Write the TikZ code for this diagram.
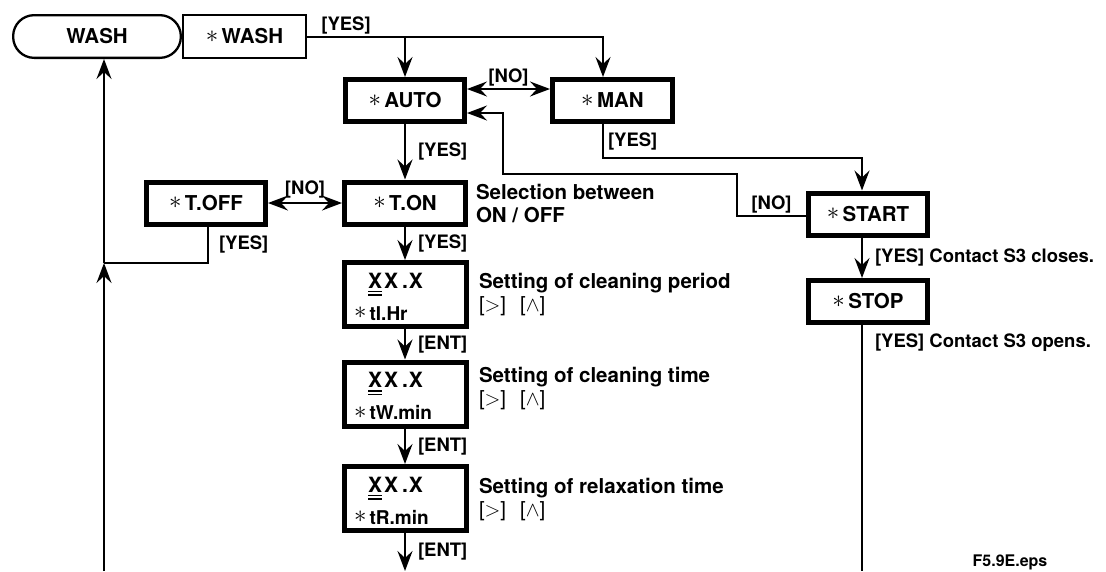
\documentclass[tikz,border=0pt]{standalone}
\usepackage{fontspec}
\setmainfont{TeX Gyre Heros}
\usetikzlibrary{arrows.meta}
\usetikzlibrary{positioning}

\newsavebox\ulbox
\newcommand\mk{{\mdseries\fontsize{23}{23}\selectfont\raisebox{1.8pt}{$\ast$}}\,}
\newcommand\ulx[1]{\sbox\ulbox{#1}\rlap{\rule[-4pt]{\wd\ulbox}{1.4pt}}\rlap{\rule[-7.2pt]{\wd\ulbox}{1.4pt}}\usebox\ulbox}
\newcommand\keys{{\mdseries[$>$]\hspace{14pt}[$\wedge$]}}
\newcommand\xxx{\rule{0pt}{19.7pt}\hspace*{14pt}{\fontsize{21}{22}\selectfont\ulx{X}\kern2pt X\kern4pt.\kern1pt X}}

\tikzset{
  box/.style={draw, line width=5pt, minimum width=119pt, minimum height=42pt, inner sep=0pt,
    font=\bfseries\fontsize{20.5}{22}\selectfont},
  setbox/.style={draw, line width=5pt, minimum height=64pt, text width=102pt, inner xsep=10pt,
    inner ysep=0pt, align=left, font=\bfseries\fontsize{19}{22}\selectfont},
  thinbox/.style={draw, line width=2.3pt, minimum height=42.7pt, inner sep=0pt,
    font=\bfseries\fontsize{20.5}{22}\selectfont},
  lbl/.style={inner sep=1pt, font=\bfseries\fontsize{18.5}{20}\selectfont},
  note/.style={inner sep=0pt, align=left, anchor=base west, font=\bfseries\fontsize{20.5}{23}\selectfont},
}

\begin{document}
\begin{tikzpicture}[x=1pt, y=-1pt, line width=2pt, >={Stealth[length=20pt, width=15pt, inset=7pt]}]
    \useasboundingbox (0,0) rectangle (1106,571);
    % top row
    \node[thinbox, minimum width=167.7pt, rounded corners=21pt] (wash) at (97,36.5) {WASH};
    \node[thinbox, minimum width=122.7pt] (washsel) at (244.5,36.5) {\mk WASH};
    % auto / manual
    \node[box] (auto) at (405,100.5) {\mk AUTO};
    \node[box, minimum width=120pt] (man) at (612.5,100.5) {\mk MAN};
    \node[box] (start) at (868,214) {\mk START};
    \node[box] (stop) at (868,301.5) {\mk STOP};
    % timer settings
    \node[box] (toff) at (206,203) {\mk T.OFF};
    \node[box, minimum width=121pt] (ton) at (405,203) {\mk T.ON};
    \node[setbox] (thr) at (405,294.5) {\xxx\\[10pt]\mk tI.Hr};
    \node[setbox] (twmin) at (405,394) {\xxx\\[10pt]\mk tW.min};
    \node[setbox] (trmin) at (405,498.5) {\xxx\\[10pt]\mk tR.min};
    \coordinate (wbot) at (104,571);
    \coordinate (wjoin) at (104,263);
    \coordinate (tbot) at (405,571);
    \coordinate (sbot) at (862,571);
    % connectors
    \draw[->] (washsel.east) -| node[lbl, above, pos=0.066] {[YES]} ([xshift=-9.5pt]man.north);
    \draw[->] (auto.north |- washsel.east) -- (auto.north);
    \draw[<->] ([yshift=11.5pt]auto.east) -- node[lbl, above=1pt] {[NO]} ([yshift=11.5pt]man.west);
    \draw[->] (auto) -- node[lbl, right=11pt] {[YES]} (ton);
    \draw[->] ([xshift=-9.5pt]man.south) -- node[lbl, right=3pt] {[YES]} ++(0,34) -| ([xshift=-6pt]start.north);
    \draw[->] ([yshift=-2pt]start.west) -- node[lbl, above=1pt] {[NO]} ++(-69,0) |- (503,174) |- ([yshift=-12.5pt]auto.east);
    \draw[<->] (toff) -- node[lbl, above=3pt] {[NO]} (ton);
    \draw ([xshift=2pt]toff.south) |- node[lbl, right=9pt, pos=0.25] {[YES]} (wjoin);
    \draw[->] (wbot) -- (wjoin);
    \draw[->] (wjoin) -- ([xshift=7pt]wash.south);
    \draw[->] (ton) -- node[lbl, right=11pt] {[YES]} (thr);
    \draw[->] (thr) -- node[lbl, right=11pt] {[ENT]} (twmin);
    \draw[->] (twmin) -- node[lbl, right=11pt] {[ENT]} (trmin);
    \draw[->] (trmin) -- node[lbl, right=11pt] {[ENT]} (tbot);
    \draw[->] ([xshift=-6pt]start.south) -- node[lbl, right=11pt] {[YES] Contact S3 closes.} ([xshift=-6pt]stop.north);
    \draw ([xshift=-6pt]stop.south) -- node[lbl, right=11pt, pos=0.073] {[YES] Contact S3 opens.} (sbot);
    % notes
    \node[note] (selnote) at (475,222) {Selection between\\ON / OFF};
    \node[note] (pernote) at (478,311) {Setting of cleaning period\\\keys};
    \node[note] (timenote) at (478,405) {Setting of cleaning time\\\keys};
    \node[note] (relnote) at (478,516) {Setting of relaxation time\\\keys};
    \node[lbl, font=\bfseries\fontsize{16}{18}\selectfont] (fname) at (1010,562) {F5.9E.eps};
\end{tikzpicture}
\end{document}
